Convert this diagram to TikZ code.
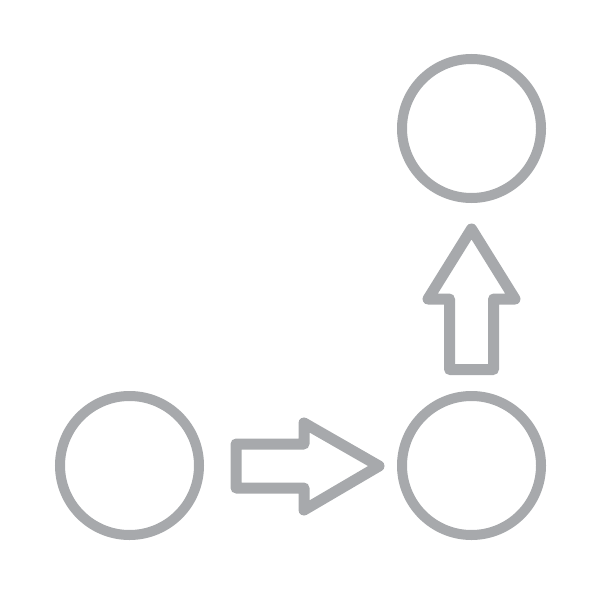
\documentclass[tikz,border=0pt]{standalone}
\begin{document}
\begin{tikzpicture}[x=1pt,y=-1pt,
  ring/.style={circle,draw=ringgray,line width=10pt,minimum size=139pt,inner sep=0pt},
  fatarrow/.style={draw=ringgray,line width=11pt,line join=round,fill=white}]
\definecolor{ringgray}{HTML}{A7A9AC}
\useasboundingbox (0,0) rectangle (601,601);
\node[ring] (a) at (129.5,465.5) {};
\node[ring] (b) at (471.5,465.5) {};
\node[ring] (c) at (471.5,128.5) {};
% right arrow
\draw[fatarrow] (236,444) -- (304,444) -- (304,423) -- (379,466) -- (304,510) -- (304,488) -- (236,488) -- cycle;
% up arrow
\draw[fatarrow] (449.5,369.5) -- (449.5,299) -- (428,299) -- (471.5,229) -- (515,299) -- (493.5,299) -- (493.5,369.5) -- cycle;
\end{tikzpicture}
\end{document}
